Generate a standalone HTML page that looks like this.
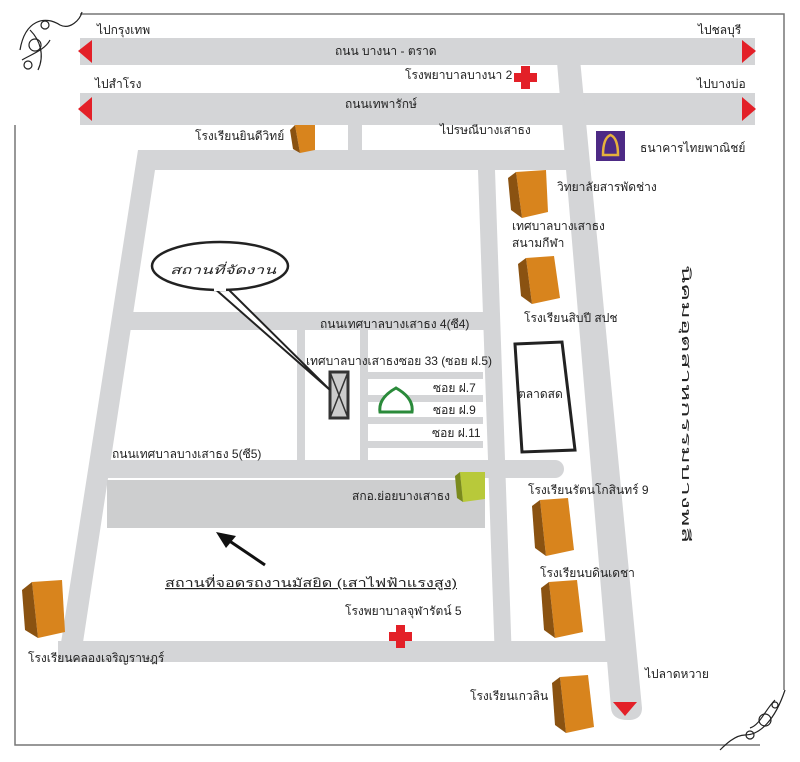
<!DOCTYPE html>
<html><head><meta charset="utf-8"><style>
html,body{margin:0;padding:0;background:#fff;}
svg{display:block}
text{font-family:"Liberation Sans","DejaVu Sans",sans-serif;fill:#222;font-size:12px;}
</style></head><body>
<svg width="800" height="762" viewBox="0 0 800 762" xmlns="http://www.w3.org/2000/svg">
<rect width="800" height="762" fill="#fff"/>
<path d="M80 14 H784 V690 M760 745 H15 V125" fill="none" stroke="#777" stroke-width="1.5"/>
<g fill="none" stroke="#222" stroke-width="1.2">
<path d="M20 50 C25 20 45 15 60 25 C70 30 80 20 82 12 M30 30 C40 40 45 55 38 70 M22 60 C30 55 45 50 50 40"/>
<circle cx="35" cy="45" r="6"/><circle cx="28" cy="65" r="4"/><circle cx="45" cy="25" r="4"/>
<path d="M785 690 C775 720 760 735 745 735 C735 735 725 745 720 750 M775 700 C765 710 760 725 750 728"/>
<circle cx="765" cy="720" r="6"/><circle cx="775" cy="705" r="3"/><circle cx="750" cy="735" r="4"/>
</g>
<g fill="#d4d5d7">
<rect x="80" y="38" width="675" height="27"/>
<rect x="80" y="93" width="675" height="32"/>
<path d="M555 38 L578 38 L642 708 Q642 720 628 720 Q612 720 611 708 Z"/>
<rect x="348" y="125" width="14" height="27"/>
<path d="M138 150 L580 150 L582 170 L155 170 L80 662 L58 662 Z"/>
<path d="M478 170 L495 170 L512 662 L495 662 Z"/>
<rect x="130" y="312" width="367" height="18"/>
<rect x="105" y="460" width="450" height="18"/>
<circle cx="555" cy="469" r="9"/>
<rect x="58" y="641" width="560" height="21"/>
<rect x="297" y="330" width="8" height="130"/>
<rect x="360" y="330" width="8" height="130"/>
<rect x="368" y="372" width="115" height="7"/>
<rect x="368" y="395" width="115" height="7"/>
<rect x="368" y="417" width="115" height="7"/>
<rect x="368" y="441" width="115" height="7"/>
<rect x="107" y="480" width="378" height="48" fill="#cdcecf"/>
</g>
<g fill="#e32028">
<path d="M78 51 L92 40 L92 63 Z"/><path d="M756 51 L742 40 L742 63 Z"/>
<path d="M78 109 L92 97 L92 121 Z"/><path d="M756 109 L742 97 L742 121 Z"/>
<path d="M613 702 L637 702 L625 716 Z"/>
<path d="M521 66 h9 v7 h7 v9 h-7 v7 h-9 v-7 h-7 v-9 h7 Z"/>
<path d="M396 625 h9 v7 h7 v9 h-7 v7 h-9 v-7 h-7 v-9 h7 Z"/>
</g>
<g>
<g transform="translate(290,125)"><path d="M5 0 L25 0 L25 25 L10 28 Z" fill="#d8841d"/><path d="M0 5 L5 0 L10 28 L3 24 Z" fill="#8a5211"/></g>
<g transform="translate(508,172)"><path d="M8 0 L38 -2 L40 40 L14 46 Z" fill="#d8841d"/><path d="M0 6 L8 0 L14 46 L3 38 Z" fill="#8a5211"/></g>
<g transform="translate(518,258)"><path d="M8 0 L36 -2 L42 40 L14 46 Z" fill="#d8841d"/><path d="M0 6 L8 0 L14 46 L3 38 Z" fill="#8a5211"/></g>
<g transform="translate(532,500)"><path d="M8 0 L36 -2 L42 50 L14 56 Z" fill="#d8841d"/><path d="M0 6 L8 0 L14 56 L3 48 Z" fill="#8a5211"/></g>
<g transform="translate(541,582)"><path d="M8 0 L36 -2 L42 50 L14 56 Z" fill="#d8841d"/><path d="M0 6 L8 0 L14 56 L3 48 Z" fill="#8a5211"/></g>
<g transform="translate(552,677)"><path d="M8 0 L36 -2 L42 50 L14 56 Z" fill="#d8841d"/><path d="M0 6 L8 0 L14 56 L3 48 Z" fill="#8a5211"/></g>
<g transform="translate(22,582)"><path d="M10 0 L40 -2 L43 50 L16 56 Z" fill="#d8841d"/><path d="M0 8 L10 0 L16 56 L3 48 Z" fill="#8a5211"/></g>
<g transform="translate(455,472)"><path d="M5 0 L30 0 L30 27 L8 30 Z" fill="#b8c93a"/><path d="M0 4 L5 0 L8 30 L2 26 Z" fill="#7a8a1d"/></g>
</g>
<rect x="596" y="131" width="29" height="30" fill="#4d2a85"/>
<path d="M603 155 Q603 138 610.5 135 Q618 138 618 155 Z" fill="none" stroke="#e6b23c" stroke-width="2.5"/>
<path d="M515 344 L562 342 L575 450 L522 452 Z" fill="#fff" stroke="#222" stroke-width="3"/>
<rect x="330" y="372" width="18" height="46" fill="#ccc" stroke="#333" stroke-width="3"/>
<path d="M330 372 L348 418 M348 372 L330 418" stroke="#333" stroke-width="1.5"/>
<path d="M380 412 Q378 398 396 388 Q414 398 412 412 Z" fill="#fff" stroke="#2a8a3a" stroke-width="3"/>
<path d="M214 288 L330 390 L228 289" fill="#fff" stroke="#222" stroke-width="2"/>
<ellipse cx="220" cy="266" rx="68" ry="24" fill="#fff" stroke="#222" stroke-width="2.5"/>
<rect x="214" y="285" width="12" height="6" fill="#fff"/>
<text x="170" y="274" font-size="19" font-style="italic" textLength="106" lengthAdjust="spacingAndGlyphs">สถานที่จัดงาน</text>
<path d="M265 565 L228 540" stroke="#111" stroke-width="3"/>
<path d="M216 532 L236 536 L226 548 Z" fill="#111"/>
<text x="97" y="34">ไปกรุงเทพ</text>
<text x="698" y="34">ไปชลบุรี</text>
<text x="335" y="55">ถนน บางนา - ตราด</text>
<text x="95" y="88">ไปสำโรง</text>
<text x="697" y="88">ไปบางบ่อ</text>
<text x="405" y="79">โรงพยาบาลบางนา 2</text>
<text x="345" y="108">ถนนเทพารักษ์</text>
<text x="195" y="140">โรงเรียนยินดีวิทย์</text>
<text x="440" y="134">ไปรษณีบางเสาธง</text>
<text x="640" y="152">ธนาคารไทยพาณิชย์</text>
<text x="557" y="191">วิทยาลัยสารพัดช่าง</text>
<text x="512" y="230">เทศบาลบางเสาธง</text>
<text x="512" y="247">สนามกีฬา</text>
<text x="524" y="322">โรงเรียนสิบปี สปช</text>
<text x="320" y="328">ถนนเทศบาลบางเสาธง 4(ซี4)</text>
<text x="306" y="365">เทศบาลบางเสาธงซอย 33 (ซอย ฝ.5)</text>
<text x="433" y="392">ซอย ฝ.7</text>
<text x="433" y="414">ซอย ฝ.9</text>
<text x="432" y="437">ซอย ฝ.11</text>
<text x="518" y="398">ตลาดสด</text>
<text x="112" y="458">ถนนเทศบาลบางเสาธง 5(ซี5)</text>
<text x="352" y="500">สกอ.ย่อยบางเสาธง</text>
<text x="528" y="494">โรงเรียนรัตนโกสินทร์ 9</text>
<text x="540" y="577">โรงเรียนบดินเดชา</text>
<text x="165" y="587" font-size="17" text-decoration="underline" textLength="292" lengthAdjust="spacingAndGlyphs">สถานที่จอดรถงานมัสยิด (เสาไฟฟ้าแรงสูง)</text>
<text x="345" y="615">โรงพยาบาลจุฬารัตน์ 5</text>
<text x="28" y="662">โรงเรียนคลองเจริญราษฎร์</text>
<text x="645" y="678">ไปลาดหวาย</text>
<text x="470" y="700">โรงเรียนเกวลิน</text>
<text transform="translate(682,265) rotate(90)" font-size="30" fill="#333" textLength="278" lengthAdjust="spacingAndGlyphs">นิคมอุตสาหกรรมบางพลี</text>
</svg>
</body></html>
